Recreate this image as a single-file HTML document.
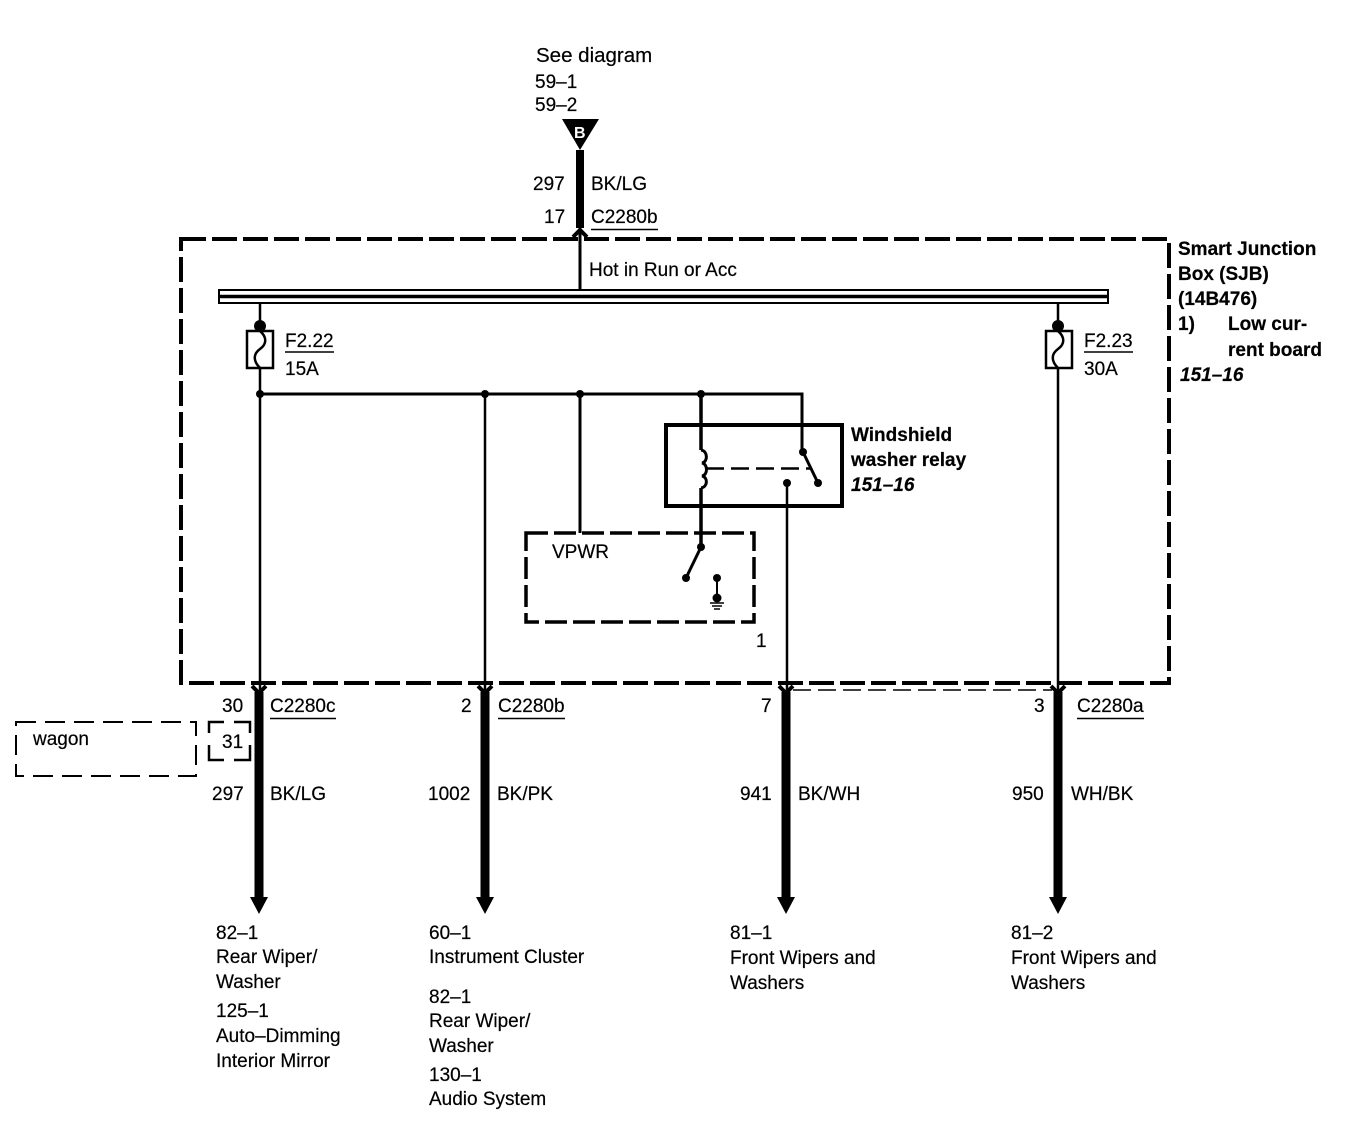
<!DOCTYPE html>
<html><head><meta charset="utf-8"><style>
html,body{margin:0;padding:0;background:#fff}
svg{display:block}
text{font-family:"Liberation Sans",sans-serif;font-size:19px;fill:#000;stroke:#000;stroke-width:.2}
.b{font-weight:bold}
.bi{font-weight:bold;font-style:italic}
</style></head><body>
<svg width="1370" height="1136" viewBox="0 0 1370 1136" xmlns="http://www.w3.org/2000/svg">
<g fill="none" stroke="#000">
<!-- SJB -->
<rect x="181" y="239" width="988" height="444" stroke-width="4" stroke-dasharray="25 6"/>
<!-- bus -->
<rect x="219" y="290" width="889" height="13" stroke-width="2"/>
<path d="M219 296.500H1108" stroke-width="3.500"/>
<!-- top wire -->
<path d="M580 150V228" stroke-width="8"/>
<path d="M580 226V290" stroke-width="3"/>
<path d="M573 237L580 230L587 237" stroke-width="4"/>
<!-- verticals -->
<path d="M260 303V690M1058 303V690M485 394V690M787 483V690" stroke-width="2.500"/>
<path d="M260 394H802V452M580 394V533" stroke-width="3"/>
<path d="M701 394V450M701 488V547" stroke-width="3.500"/>
<!-- coil -->
<path d="M701 450C708 451 708 462 702 463C708 464 708 475 702 476C708 477 708 487 701 488" stroke-width="3"/>
<!-- relay -->
<rect x="666" y="425" width="176" height="81" stroke-width="4"/>
<path d="M706 468.500H812" stroke-width="2.500" stroke-dasharray="18 7"/>
<path d="M803 452L818 483" stroke-width="3"/>
<!-- VPWR box -->
<rect x="526" y="533" width="228" height="89" stroke-width="3.500" stroke-dasharray="22 6"/>
<path d="M701 547L686 578" stroke-width="3"/>
<path d="M717 578V598" stroke-width="2"/>
<path d="M710 603H724M712 606H722M714 609H720" stroke-width="1.500"/>
<!-- fuses -->
<rect x="247" y="331" width="26" height="37" stroke-width="2.500" fill="#fff"/>
<rect x="1046" y="331" width="26" height="37" stroke-width="2.500" fill="#fff"/>
<path d="M260 331C267 337 267 344 260 349C253 354 253 361 260 368" stroke-width="2.500"/>
<path d="M1058 331C1065 337 1065 344 1058 349C1051 354 1051 361 1058 368" stroke-width="2.500"/>
<!-- bottom thick wires -->
<path d="M259 692V900M485 692V900M786 692V900M1058 692V900" stroke-width="9"/>
<!-- chevrons -->
<path d="M252 686L259 693L266 686M478 686L485 693L492 686M779 686L786 693L793 686M1051 686L1058 693L1065 686" stroke-width="4"/>
<!-- thin dashed -->
<path d="M793 690H1052" stroke-width="1.500" stroke-dasharray="18 7"/>
<!-- wagon -->
<rect x="16" y="722" width="180" height="54" stroke-width="2" stroke-dasharray="20 9"/>
<path d="M209 733V722H224M234 722H250V733M250 745V760H234M224 760H209V745" stroke-width="2.500"/>
<!-- underlines -->
<path d="M591 229.500H658M270 718.500H336M498 718.500H565M1077 718.500H1144M285 352H334M1084 352H1133" stroke-width="1.500"/>
</g>
<g fill="#000">
<polygon points="562,119 599,119 580,150"/>
<polygon points="250,897 268,897 259,914"/>
<polygon points="476,897 494,897 485,914"/>
<polygon points="777,897 795,897 786,914"/>
<polygon points="1049,897 1067,897 1058,914"/>
<circle cx="260" cy="326" r="6"/><circle cx="1058" cy="326" r="6"/>
<circle cx="260" cy="394" r="4"/><circle cx="485" cy="394" r="4"/><circle cx="580" cy="394" r="4"/><circle cx="701" cy="394" r="4"/>
<circle cx="803" cy="452" r="4"/><circle cx="818" cy="483" r="4"/><circle cx="787" cy="483" r="4"/>
<circle cx="701" cy="547" r="4"/><circle cx="686" cy="578" r="4"/><circle cx="717" cy="578" r="4"/><circle cx="717" cy="598" r="4.500"/>
</g>
<text x="574" y="138" class="b" style="font-size:16px;fill:#fff;stroke:none">B</text>
<text x="536" y="62" style="font-size:20.500px">See diagram</text>
<text x="535" y="88">59–1</text>
<text x="535" y="111">59–2</text>
<text x="533" y="190">297</text>
<text x="591" y="190">BK/LG</text>
<text x="544" y="223">17</text>
<text x="591" y="223">C2280b</text>
<text x="589" y="276">Hot in Run or Acc</text>
<text x="285" y="347">F2.22</text>
<text x="285" y="375">15A</text>
<text x="1084" y="347">F2.23</text>
<text x="1084" y="375">30A</text>
<text x="1178" y="255" class="b">Smart Junction</text>
<text x="1178" y="280" class="b">Box (SJB)</text>
<text x="1178" y="305" class="b">(14B476)</text>
<text x="1178" y="330" class="b">1)</text>
<text x="1228" y="330" class="b">Low cur-</text>
<text x="1228" y="356" class="b">rent board</text>
<text x="1180" y="381" class="bi">151–16</text>
<text x="851" y="441" class="b">Windshield</text>
<text x="851" y="466" class="b">washer relay</text>
<text x="851" y="491" class="bi">151–16</text>
<text x="552" y="558">VPWR</text>
<text x="756" y="647">1</text>
<text x="33" y="745">wagon</text>
<text x="222" y="748">31</text>
<text x="222" y="712">30</text>
<text x="270" y="712">C2280c</text>
<text x="461" y="712">2</text>
<text x="498" y="712">C2280b</text>
<text x="761" y="712">7</text>
<text x="1034" y="712">3</text>
<text x="1077" y="712">C2280a</text>
<text x="212" y="800">297</text>
<text x="270" y="800">BK/LG</text>
<text x="428" y="800">1002</text>
<text x="497" y="800">BK/PK</text>
<text x="740" y="800">941</text>
<text x="798" y="800">BK/WH</text>
<text x="1012" y="800">950</text>
<text x="1071" y="800">WH/BK</text>
<text x="216" y="939">82–1</text>
<text x="216" y="963">Rear Wiper/</text>
<text x="216" y="988">Washer</text>
<text x="216" y="1017">125–1</text>
<text x="216" y="1042">Auto–Dimming</text>
<text x="216" y="1067">Interior Mirror</text>
<text x="429" y="939">60–1</text>
<text x="429" y="963">Instrument Cluster</text>
<text x="429" y="1003">82–1</text>
<text x="429" y="1027">Rear Wiper/</text>
<text x="429" y="1052">Washer</text>
<text x="429" y="1081">130–1</text>
<text x="429" y="1105">Audio System</text>
<text x="730" y="939">81–1</text>
<text x="730" y="964">Front Wipers and</text>
<text x="730" y="989">Washers</text>
<text x="1011" y="939">81–2</text>
<text x="1011" y="964">Front Wipers and</text>
<text x="1011" y="989">Washers</text>
</svg>
</body></html>
